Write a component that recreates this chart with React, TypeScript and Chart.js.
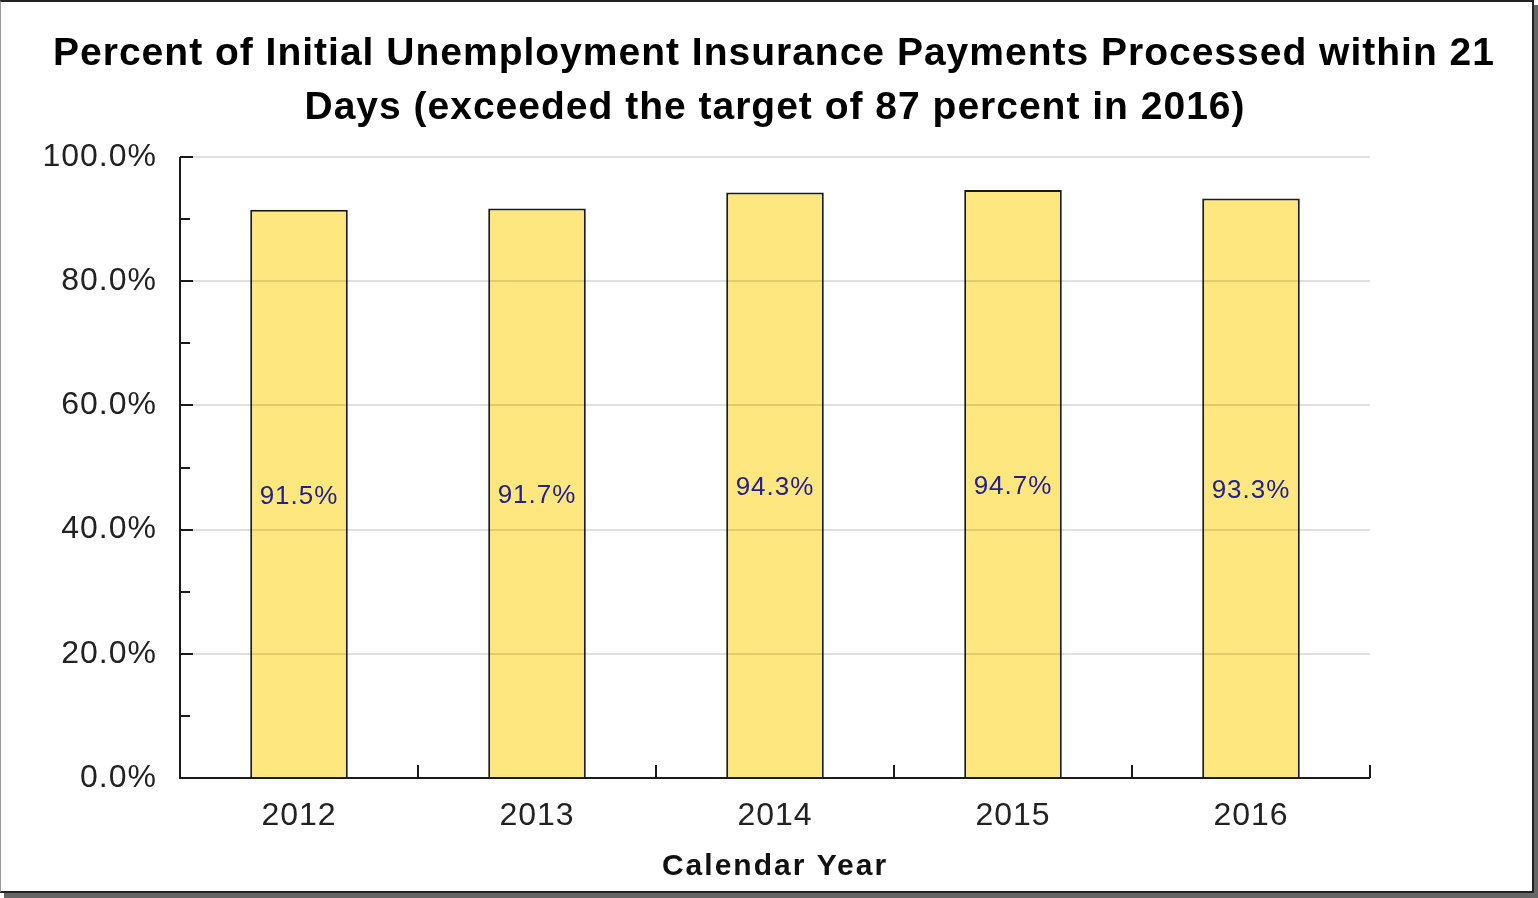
import React, { useEffect, useRef } from 'react';
import { Chart, registerables } from 'chart.js';

Chart.register(...registerables);

const categories = ['2012', '2013', '2014', '2015', '2016'];
const values = [91.5, 91.7, 94.3, 94.7, 93.3];
const yTickValues = [0, 20, 40, 60, 80, 100];
const yMinorValues = [10, 30, 50, 70, 90];
const titleLines = [
  'Percent of Initial Unemployment Insurance Payments Processed within 21',
  'Days (exceeded the target of 87 percent in 2016)',
];
const xAxisTitle = 'Calendar Year';

const FONT = '"Liberation Sans", Arial, Helvetica, sans-serif';
const CANVAS_W = 1530;
const CANVAS_H = 890;

const overlayPlugin = {
  id: 'overlay',
  beforeDraw(chart: any) {
    chart.ctx.letterSpacing = '1px';
  },
  afterDatasetsDraw(chart: any) {
    const { ctx, chartArea, scales } = chart;
    const x = scales.x;
    const y = scales.y;
    ctx.save();
    // grid lines drawn over the bars
    ctx.strokeStyle = 'rgba(0,0,0,0.12)';
    ctx.lineWidth = 2;
    for (const v of yTickValues) {
      if (v === 0) continue;
      const py = Math.round(y.getPixelForValue(v));
      ctx.beginPath();
      ctx.moveTo(chartArea.left, py);
      ctx.lineTo(chartArea.right, py);
      ctx.stroke();
    }
    // axes
    ctx.strokeStyle = '#1a1a1a';
    ctx.lineWidth = 2;
    ctx.beginPath();
    ctx.moveTo(chartArea.left, chartArea.top);
    ctx.lineTo(chartArea.left, chartArea.bottom);
    ctx.lineTo(chartArea.right, chartArea.bottom);
    ctx.stroke();
    // y ticks (inside)
    for (const v of yTickValues) {
      if (v === 0) continue;
      const py = Math.round(y.getPixelForValue(v));
      ctx.beginPath();
      ctx.moveTo(chartArea.left, py);
      ctx.lineTo(chartArea.left + 13, py);
      ctx.stroke();
    }
    for (const v of yMinorValues) {
      const py = Math.round(y.getPixelForValue(v));
      ctx.beginPath();
      ctx.moveTo(chartArea.left, py);
      ctx.lineTo(chartArea.left + 10, py);
      ctx.stroke();
    }
    // x ticks at category boundaries
    const n = categories.length;
    const half = (x.getPixelForValue(1) - x.getPixelForValue(0)) / 2;
    for (let i = 0; i <= n; i++) {
      const px = Math.round(i < n ? x.getPixelForValue(i) - half : x.getPixelForValue(n - 1) + half);
      ctx.beginPath();
      ctx.moveTo(px, chartArea.bottom);
      ctx.lineTo(px, chartArea.bottom - 13);
      ctx.stroke();
    }
    // data labels
    const meta = chart.getDatasetMeta(0);
    ctx.letterSpacing = '1px';
    ctx.font = `26px ${FONT}`;
    ctx.fillStyle = '#22228a';
    ctx.textAlign = 'center';
    ctx.textBaseline = 'middle';
    meta.data.forEach((bar: any, i: number) => {
      ctx.fillText(values[i].toFixed(1) + '%', bar.x, (bar.y + bar.base) / 2 + 3);
    });
    ctx.restore();
  },
  afterDraw(chart: any) {
    const { ctx } = chart;
    ctx.save();
    // chart title
    ctx.letterSpacing = '1px';
    ctx.font = `bold 39px ${FONT}`;
    ctx.fillStyle = '#000';
    ctx.textAlign = 'center';
    ctx.textBaseline = 'middle';
    ctx.fillText(titleLines[0], 774, 54);
    ctx.fillText(titleLines[1], 775, 108);
    // x axis title
    ctx.letterSpacing = '2px';
    ctx.font = `bold 30px ${FONT}`;
    ctx.fillStyle = '#111';
    ctx.fillText(xAxisTitle, 775, 867);
    ctx.restore();
  },
};

export default function App() {
  const ref = useRef<HTMLCanvasElement>(null);

  useEffect(() => {
    if (!ref.current) return;
    const chart = new Chart(ref.current, {
      type: 'bar',
      data: {
        labels: categories,
        datasets: [
          {
            data: values,
            backgroundColor: '#FFE77F',
            borderColor: '#1a1a1a',
            borderWidth: 2,
            barPercentage: 0.41,
            categoryPercentage: 1,
          },
        ],
      },
      options: {
        responsive: false,
        animation: false,
        devicePixelRatio: 1,
        layout: { padding: { left: 0, right: 160, top: 157, bottom: 0 } },
        plugins: {
          legend: { display: false },
          tooltip: { enabled: false },
          title: { display: false },
        },
        scales: {
          x: {
            grid: { display: false, drawTicks: false },
            border: { display: false },
            ticks: {
              color: '#222',
              font: { family: FONT, size: 32 },
              padding: 19,
            },
            afterFit: (s: any) => {
              s.height = 112;
            },
          },
          y: {
            min: 0,
            max: 100,
            grid: { display: false, drawTicks: false },
            border: { display: false },
            ticks: {
              stepSize: 20,
              color: '#222',
              font: { family: FONT, size: 32 },
              padding: 23,
              callback: (v: any) => Number(v).toFixed(1) + '%',
            },
            afterFit: (s: any) => {
              s.width = 180;
            },
          },
        },
      },
      plugins: [overlayPlugin],
    });
    return () => chart.destroy();
  }, []);

  return (
    <div style={{ position: 'absolute', left: 0, top: 0, width: 1538, height: 898, background: '#fff' }}>
      <canvas
        ref={ref}
        width={CANVAS_W}
        height={CANVAS_H}
        style={{ position: 'absolute', left: 0, top: 0, width: CANVAS_W, height: CANVAS_H }}
      />
      <div
        style={{
          position: 'absolute',
          left: 0,
          top: 0,
          width: 1534,
          height: 893,
          boxSizing: 'border-box',
          borderTop: '2px solid #222',
          borderLeft: '1px solid #999',
          borderRight: '2px solid #222',
          borderBottom: '2px solid #222',
          boxShadow: '4px 5px 0 #666',
          pointerEvents: 'none',
        }}
      />
    </div>
  );
}
